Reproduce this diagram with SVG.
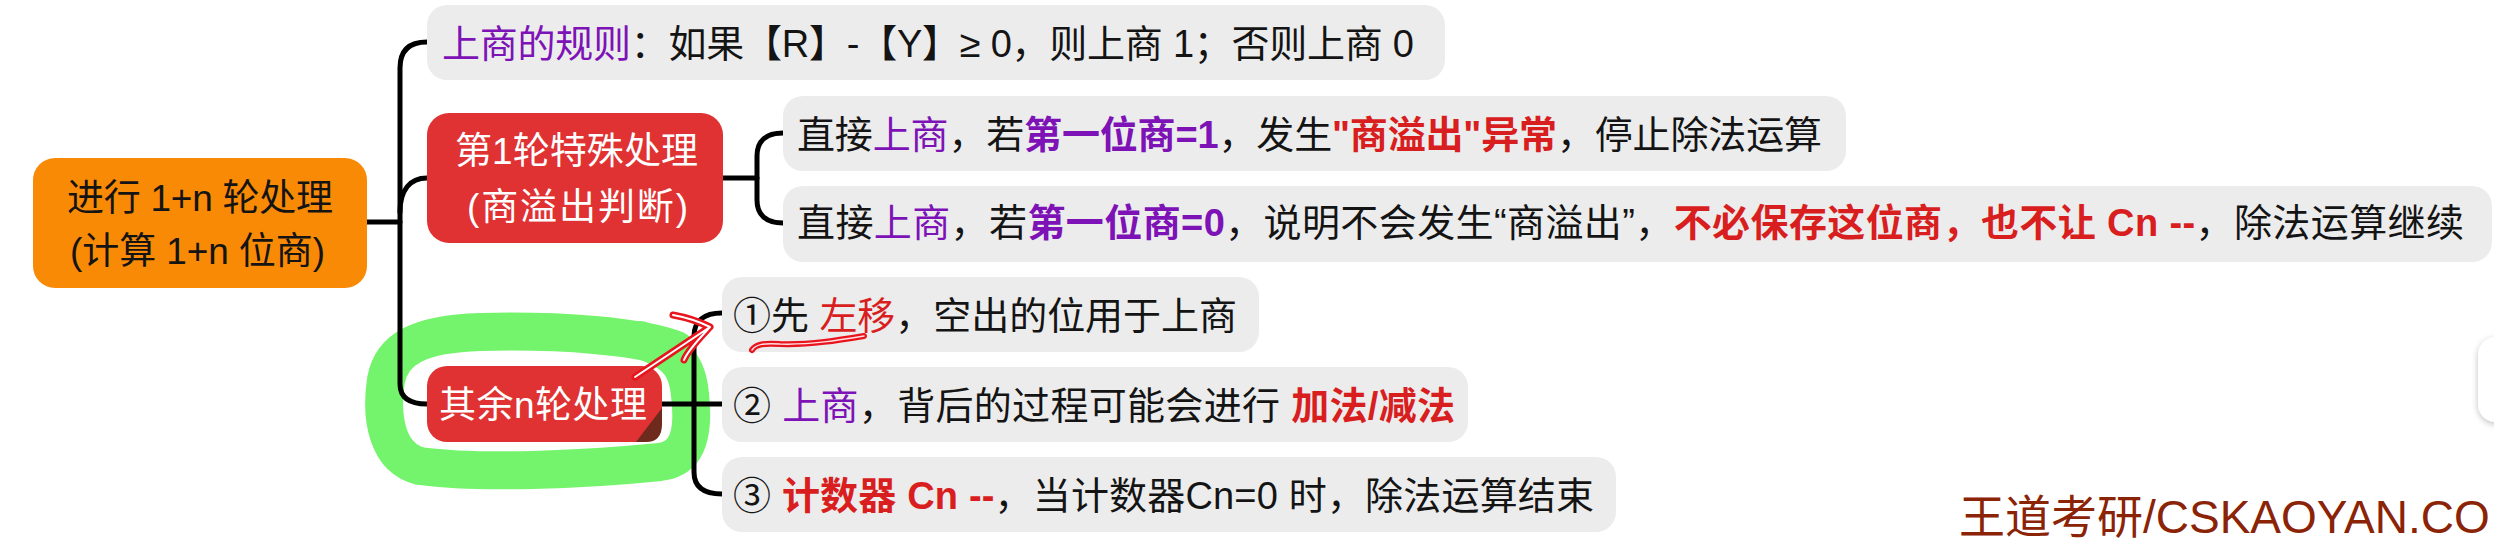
<svg xmlns="http://www.w3.org/2000/svg" width="2494" height="546" viewBox="0 0 2494 546">
<style>
text{font-family:"Liberation Sans","Noto Sans CJK SC",sans-serif;fill:#141414}
.leaf{fill:#ececec}
.lt{font-size:38px}
.nt{font-size:37px}
.wt{fill:#ffffff}
.red{fill:#e03232}
.pu{fill:#7d12b6}
.rd{fill:#d81e1e}
.b{font-weight:bold}
.conn{fill:none;stroke:#000;stroke-width:5;stroke-linecap:round;stroke-linejoin:round}
</style>
<defs>
<filter id="sh" x="-50%" y="-50%" width="200%" height="200%"><feDropShadow dx="0" dy="2" stdDeviation="3" flood-color="#000" flood-opacity="0.25"/></filter>
</defs>
<rect width="2494" height="546" fill="#ffffff"/>

<g id="highlight-ring">
<path d="M676,350 C640,336 560,330 480,332 C420,334 392,348 386,380 C380,420 388,458 420,466 C480,474 580,470 660,462 C690,458 694,430 690,395 C688,370 680,352 640,340" fill="none" stroke="#74f46c" stroke-width="38" stroke-linecap="round" stroke-linejoin="round"/>
</g>

<g id="connectors">
<path class="conn" d="M367,222 H400"/>
<path class="conn" d="M427,42 C410,42 400,50 400,68 V384 C400,398 410,404 427,404"/>
<path class="conn" d="M400,212 C400,190 410,178 427,178"/>
<path class="conn" d="M723,178 H757"/>
<path class="conn" d="M783,133 C766,133 757,141 757,156 V200 C757,215 766,223 783,223"/>
<path class="conn" d="M662,404 H722"/>
<path class="conn" d="M722,313 C704,313 694,321 694,336 V472 C694,487 704,494 722,494"/>
</g>

<g id="n-root">
<rect x="33" y="158" width="334" height="130" rx="22" fill="#f98a06"/>
<text class="nt" x="67" y="211" textLength="266">进行 1+n 轮处理</text>
<text class="nt" x="70" y="264" textLength="255">(计算 1+n 位商)</text>
</g>

<g id="n-rule">
<rect class="leaf" x="427" y="5" width="1018" height="75" rx="20"/>
<text class="lt" x="442" y="57" textLength="972"><tspan class="pu">上商的规则</tspan>：如果【R】-【Y】≥ 0，则上商 1；否则上商 0</text>
</g>

<g id="n-first">
<rect class="red" x="427" y="113" width="296" height="130" rx="22"/>
<text class="nt wt" x="455" y="164" textLength="243">第1轮特殊处理</text>
<text class="nt wt" x="467" y="220" textLength="221">(商溢出判断)</text>
</g>

<g id="n-first-a">
<rect class="leaf" x="783" y="96" width="1063" height="75" rx="20"/>
<text class="lt" x="797" y="148" textLength="1025">直接<tspan class="pu">上商</tspan>，若<tspan class="pu b">第一位商=1</tspan>，发生<tspan class="rd b">"商溢出"异常</tspan>，停止除法运算</text>
</g>

<g id="n-first-b">
<rect class="leaf" x="783" y="186" width="1709" height="76" rx="20"/>
<text class="lt" x="797" y="236" textLength="1667">直接<tspan class="pu">上商</tspan>，若<tspan class="pu b">第一位商=0</tspan>，说明不会发生“商溢出”，<tspan class="rd b">不必保存这位商，也不让 Cn --</tspan>，除法运算继续</text>
</g>

<g id="n-rest">
<rect class="red" x="427" y="366" width="235" height="76" rx="20"/>
<path d="M636,442 L662,408 L662,424 Q662,442 646,442 Z" fill="#6e2a1c"/>
<text class="nt wt" x="439" y="418" textLength="208">其余n轮处理</text>
</g>

<g id="n-rest-1">
<rect class="leaf" x="722" y="277" width="537" height="75" rx="20"/>
<text class="lt" x="733" y="329" textLength="504">①先 <tspan class="rd">左移</tspan>，空出的位用于上商</text>
</g>

<g id="n-rest-2">
<rect class="leaf" x="722" y="367" width="746" height="75" rx="20"/>
<text class="lt" x="733" y="419" textLength="722">② <tspan class="pu">上商</tspan>，背后的过程可能会进行 <tspan class="rd b">加法/减法</tspan></text>
</g>

<g id="n-rest-3">
<rect class="leaf" x="722" y="457" width="894" height="75" rx="20"/>
<text class="lt" x="733" y="509" textLength="861">③ <tspan class="rd b">计数器 Cn --</tspan>，当计数器Cn=0 时，除法运算结束</text>
</g>

<g id="annotation">
<g fill="none" stroke-linecap="round" stroke-linejoin="round">
<path d="M635,377 L710,327 M673,315 C690,318 700,322 710,327 C700,338 688,350 684,360" stroke="#e8141e" stroke-width="7"/>
<path d="M635,377 L710,327 M673,315 C690,318 700,322 710,327 C700,338 688,350 684,360" stroke="#ffffff" stroke-width="2"/>
<path d="M752,350 C756,344 764,343 780,344 C810,345 840,340 864,336" stroke="#e8141e" stroke-width="6"/>
<path d="M752,350 C756,344 764,343 780,344 C810,345 840,340 864,336" stroke="#ffe0e0" stroke-width="1.5"/>
</g>
</g>

<g id="edge-widget">
<rect x="2478" y="337" width="40" height="85" rx="18" fill="#ffffff" filter="url(#sh)"/>
</g>

<g id="watermark">
<text x="1959" y="533" font-size="46" style="fill:#8b2306">王道考研/CSKAOYAN.CO</text>
</g>
</svg>
